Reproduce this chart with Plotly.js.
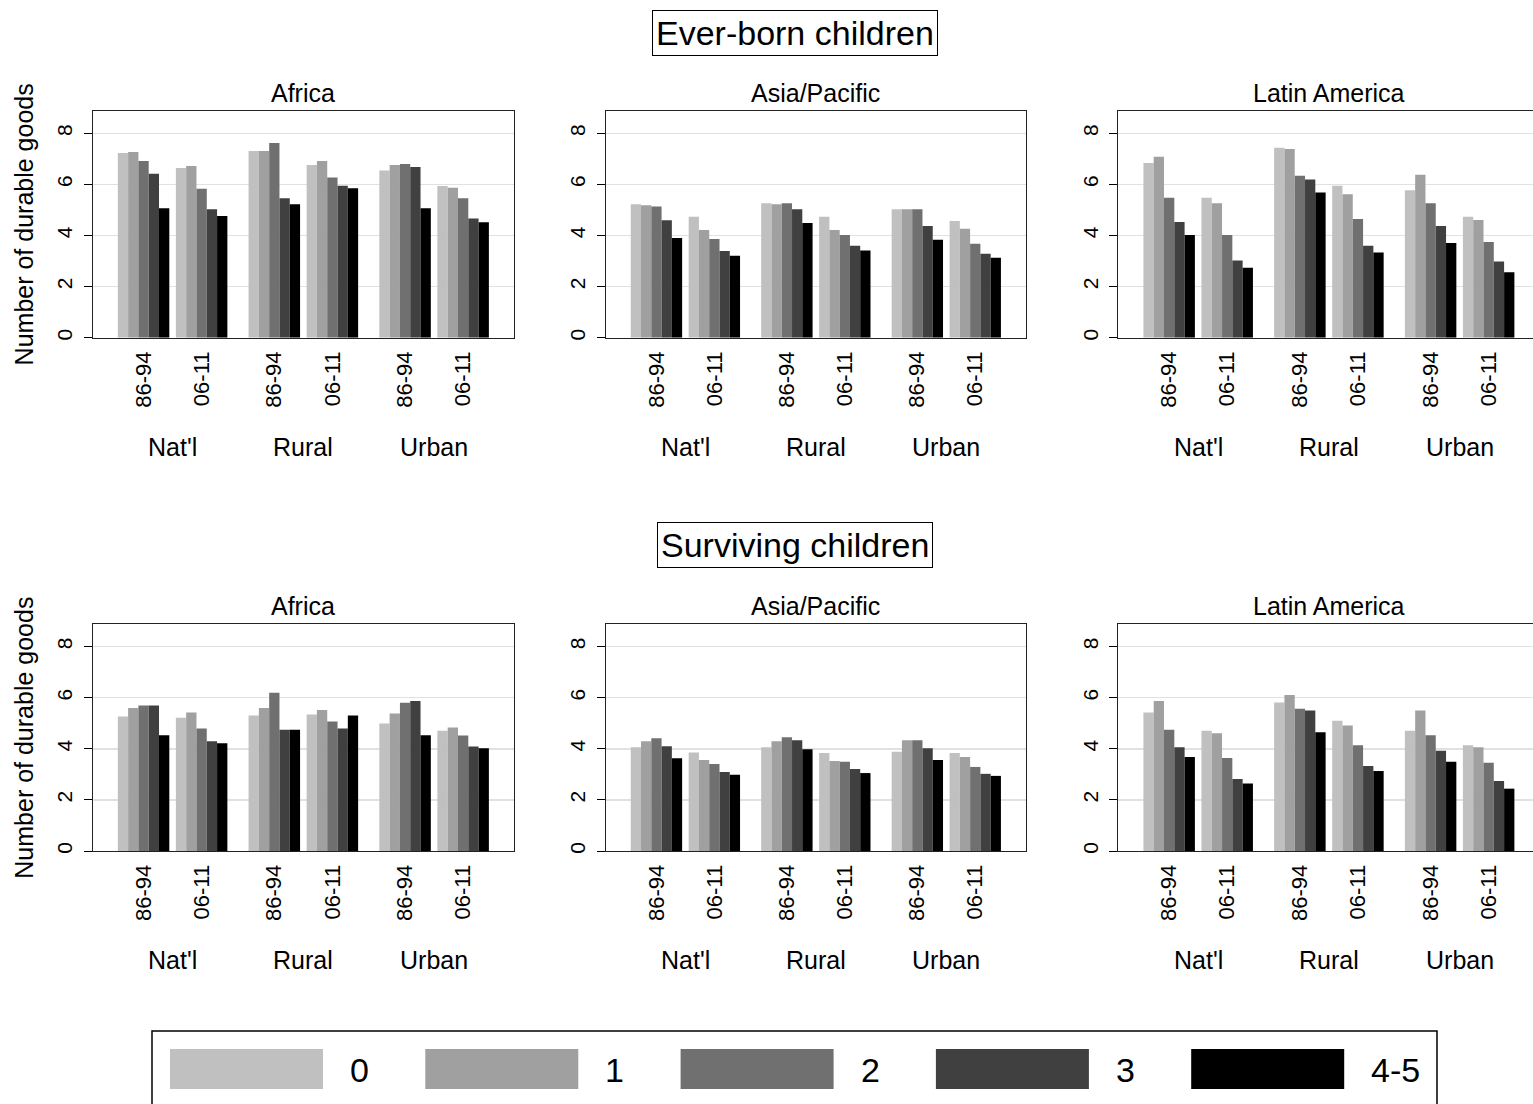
<!DOCTYPE html>
<html><head><meta charset="utf-8">
<script src="https://cdn.plot.ly/plotly-3.0.1.min.js"></script>
<style>html,body{margin:0;padding:0;overflow:hidden;background:#fff}#chart{width:1545px;height:1110px}</style>
</head><body><div id="chart"></div>
<script>
// ---------- data ----------
const sections = ['Ever-born children', 'Surviving children'];
const regions = ['Africa', 'Asia/Pacific', 'Latin America'];
const locations = ["Nat'l", 'Rural', 'Urban'];
const periods = ['86-94', '06-11'];
const childCounts = ['0', '1', '2', '3', '4-5'];
const yAxisLabel = 'Number of durable goods';
const yTicks = [0, 2, 4, 6, 8];

// rows: Nat'l 86-94, Nat'l 06-11, Rural 86-94, Rural 06-11, Urban 86-94, Urban 06-11
// columns: children 0, 1, 2, 3, 4-5
const everBornAfrica = [
  [7.23, 7.27, 6.92, 6.42, 5.07],
  [6.64, 6.72, 5.83, 5.03, 4.76],
  [7.31, 7.31, 7.62, 5.46, 5.22],
  [6.76, 6.92, 6.27, 5.95, 5.85],
  [6.54, 6.76, 6.80, 6.68, 5.07],
  [5.94, 5.87, 5.46, 4.67, 4.52]
];
const everBornAsia = [
  [5.22, 5.18, 5.14, 4.60, 3.90],
  [4.73, 4.22, 3.86, 3.39, 3.21],
  [5.26, 5.22, 5.26, 5.03, 4.49],
  [4.73, 4.22, 4.02, 3.60, 3.41],
  [5.03, 5.03, 5.03, 4.37, 3.83],
  [4.57, 4.26, 3.68, 3.29, 3.13]
];
const everBornLatin = [
  [6.84, 7.08, 5.48, 4.53, 4.02],
  [5.48, 5.26, 4.02, 3.02, 2.74],
  [7.43, 7.39, 6.34, 6.19, 5.68],
  [5.95, 5.61, 4.65, 3.60, 3.33],
  [5.77, 6.38, 5.26, 4.37, 3.71],
  [4.73, 4.61, 3.75, 2.98, 2.56]
];
const survivingAfrica = [
  [5.26, 5.60, 5.69, 5.69, 4.53],
  [5.22, 5.42, 4.79, 4.30, 4.22],
  [5.30, 5.60, 6.19, 4.75, 4.75],
  [5.34, 5.52, 5.07, 4.79, 5.30],
  [4.99, 5.38, 5.80, 5.87, 4.53],
  [4.71, 4.83, 4.52, 4.09, 4.02]
];
const survivingAsia = [
  [4.06, 4.30, 4.41, 4.10, 3.63],
  [3.86, 3.56, 3.41, 3.09, 2.98],
  [4.06, 4.30, 4.45, 4.33, 3.98],
  [3.84, 3.52, 3.49, 3.21, 3.05],
  [3.88, 4.33, 4.33, 4.02, 3.56],
  [3.84, 3.68, 3.29, 3.02, 2.94]
];
const survivingLatin = [
  [5.42, 5.87, 4.75, 4.06, 3.68],
  [4.71, 4.61, 3.64, 2.82, 2.64],
  [5.81, 6.11, 5.57, 5.50, 4.65],
  [5.10, 4.91, 4.14, 3.33, 3.13],
  [4.71, 5.50, 4.53, 3.92, 3.49],
  [4.14, 4.06, 3.45, 2.74, 2.44]
];

// ---------- styling / layout ----------
const panelData = [
  [everBornAfrica, everBornAsia, everBornLatin],
  [survivingAfrica, survivingAsia, survivingLatin]
];
const countColors = ['#c0c0c0', '#a0a0a0', '#707070', '#404040', '#000000'];
const FONT = 'Liberation Sans, Arial, Helvetica, sans-serif';
const W = 1545, H = 1110;
const px = v => v / W;
const py = v => (H - v) / H;
const colPx = [[92.7, 514], [605.7, 1026], [1118.3, 1539.5]];
const rowPx = [[111, 337.7], [624.3, 851]];
const periodOffset = 0.222;
const xRange = [-0.611, 2.611];
const yRange = [0, 8.873];

const groupPos = [];
const groupText = [];
locations.forEach((loc, li) => periods.forEach((per, pi) => {
  groupPos.push(li + (pi === 0 ? -periodOffset : periodOffset));
  groupText.push(per);
}));

const traces = [];
const layout = {
  width: W, height: H,
  margin: {l: 0, r: 0, t: 0, b: 0},
  paper_bgcolor: '#fff', plot_bgcolor: '#fff',
  font: {family: FONT, color: '#000'},
  barmode: 'group', bargap: 0.113, bargroupgap: 0,
  showlegend: false,
  annotations: [], shapes: []
};

panelData.forEach((row, r) => {
  row.forEach((data, c) => {
    const n = r * 3 + c + 1;
    const xa = 'x' + (n === 1 ? '' : n), ya = 'y' + (n === 1 ? '' : n);
    childCounts.forEach((cc, k) => {
      traces.push({
        type: 'bar', x: groupPos, y: data.map(g => g[k]),
        xaxis: xa, yaxis: ya, name: cc, legendgroup: cc,
        marker: {color: countColors[k], line: {width: 0}},
        hovertemplate: regions[c] + ' %{x}: %{y}<extra>' + cc + '</extra>'
      });
    });
    layout['xaxis' + (n === 1 ? '' : n)] = {
      domain: [px(colPx[c][0]), px(colPx[c][1])], anchor: ya,
      range: xRange, tickmode: 'array', tickvals: groupPos, ticktext: groupText,
      tickangle: -90, ticks: '', ticklabelstandoff: 4,
      tickfont: {size: 22, family: FONT},
      showgrid: false, zeroline: false,
      showline: true, mirror: true, linecolor: '#222', linewidth: 1
    };
    const yax = {
      domain: [py(rowPx[r][1]), py(rowPx[r][0])], anchor: xa,
      range: yRange, tickmode: 'array', tickvals: yTicks,
      tickangle: -90, ticks: 'outside', ticklen: 8, tickcolor: '#000', tickwidth: 1,
      ticklabelstandoff: 3,
      tickfont: {size: 21, family: FONT},
      showgrid: true, gridcolor: '#e1e1e1', gridwidth: 1.5, zeroline: false,
      showline: true, mirror: true, linecolor: '#222', linewidth: 1
    };
    if (c === 0) {
      yax.title = {text: yAxisLabel, font: {size: 25, family: FONT}, standoff: 12};
    }
    layout['yaxis' + (n === 1 ? '' : n)] = yax;

    // panel title
    layout.annotations.push({
      text: regions[c], xref: xa + ' domain', yref: 'paper',
      x: 0.5, y: py(rowPx[r][0] - 18), xanchor: 'center', yanchor: 'middle',
      showarrow: false, font: {size: 25, family: FONT}
    });
    // location labels
    locations.forEach((loc, li) => {
      layout.annotations.push({
        text: loc, xref: xa, yref: 'paper',
        x: li, y: py(rowPx[r][1] + 109), xanchor: 'center', yanchor: 'middle',
        showarrow: false, font: {size: 25, family: FONT}
      });
    });
  });
  // section title in a box
  layout.annotations.push({
    text: sections[r], xref: 'paper', yref: 'paper',
    x: px(794.5), y: py(r === 0 ? 32.5 : 544.7), xanchor: 'center', yanchor: 'middle',
    showarrow: false, font: {size: 34, family: FONT},
    bordercolor: '#000', borderwidth: 1, borderpad: 3, bgcolor: '#fff'
  });
});

// legend box
layout.shapes.push({
  type: 'rect', xref: 'paper', yref: 'paper',
  x0: px(152), x1: px(1437), y0: py(1106), y1: py(1031),
  line: {color: '#000', width: 1.5}, fillcolor: 'rgba(0,0,0,0)'
});
childCounts.forEach((cc, k) => {
  const left = 170 + k * 255.3;
  layout.shapes.push({
    type: 'rect', xref: 'paper', yref: 'paper',
    x0: px(left), x1: px(left + 153), y0: py(1089), y1: py(1049),
    line: {width: 0}, fillcolor: countColors[k]
  });
  layout.annotations.push({
    text: cc, xref: 'paper', yref: 'paper',
    x: px(left + 153 + 25), y: py(1070), xanchor: 'left', yanchor: 'middle',
    showarrow: false, font: {size: 34, family: FONT}
  });
});

Plotly.newPlot('chart', traces, layout, {displayModeBar: false, staticPlot: true});
</script>
</body></html>
